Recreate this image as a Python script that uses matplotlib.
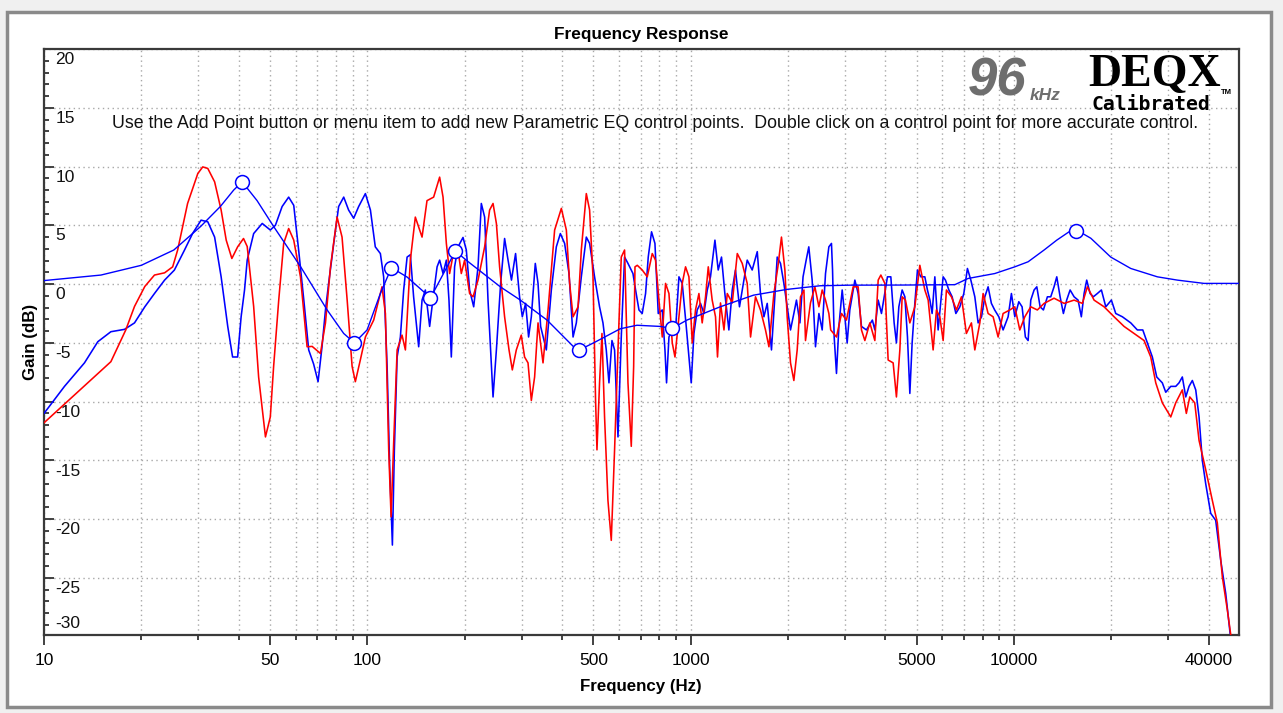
import matplotlib
matplotlib.use("Agg")
import matplotlib.pyplot as plt
from matplotlib.ticker import FixedLocator, MultipleLocator, NullFormatter
from matplotlib.patches import Rectangle
import matplotlib.transforms as mtransforms

# ---------------- data ----------------
red_freq = [10, 16.1, 17.9, 19.05, 20.5, 21.96, 23.6, 25.0, 25.9, 27.8, 29.9, 30.97, 32.1, 33.7,
            35.3, 36.6, 38.1, 39.7, 41.4, 42.5, 44.5, 46.1, 48.4, 50.1, 51.3, 53.2, 55.1, 57.1,
            59.2, 62.1, 65.1, 67.5, 71.6, 74.2, 76.9, 80.6, 83.5, 86.6, 89.7, 91.8, 95.1, 98.6,
            104.6, 111.0, 113.7, 116.4, 118.4, 120.6, 123.6, 128.0, 131.1, 135.8, 140.7, 147.6,
            152.9, 160.3, 167.3, 171.4, 175.5, 179.6, 186.1, 190.7, 195.2, 199.9, 207.1, 212.2,
            219.9, 230.5, 238.8, 244.7, 250.6, 256.4, 265.7, 274.2, 280.7, 288.8, 299.2, 306.3,
            313.9, 321.4, 329.0, 337.1, 349.3, 362.0, 379.4, 398.0, 412.4, 422.2, 432.6, 448.3,
            458.8, 475.4, 486.7, 498.6, 507.8, 512.9, 522.4, 531.5, 541.4, 554.6, 567.9, 581.4,
            595.7, 609.8, 624.3, 639.6, 654.8, 666.0, 672.3, 683.4, 707.9, 733.8, 760.3, 778.4,
            797.4, 816.4, 835.8, 856.3, 876.7, 893.8, 919.5, 941.3, 963.7, 987.2, 1010.7, 1034.6,
            1060, 1085, 1111, 1133, 1165, 1193, 1210, 1236, 1267, 1297, 1344, 1393, 1443, 1495,
            1531, 1586, 1643, 1703, 1745, 1808, 1860, 1908, 1955, 1987, 2035, 2084, 2134, 2185,
            2239, 2264, 2346, 2420, 2491, 2550, 2611, 2674, 2709, 2823, 2926, 3031, 3179, 3294,
            3373, 3455, 3580, 3710, 3799, 3872, 3984, 4078, 4226, 4326, 4433, 4506, 4613, 4760,
            4932, 5111, 5296, 5423, 5618, 5752, 5893, 6033, 6176, 6400, 6632, 6873, 7119, 7379,
            7560, 7834, 8020, 8310, 8612, 8923, 9247, 9698, 10050, 10414, 10793, 11260, 11800,
            12380, 13290, 14280, 15330, 16260, 16850, 17670, 18980, 20380, 21880, 23490, 25230,
            26460, 27420, 28730, 30510, 31610, 33130, 34090, 34930, 36190, 37320, 39140, 41020,
            42500, 44050, 45640, 46780]
red_gain = [-11.8, -6.6, -3.9, -1.9, -0.2, 0.77, 0.96, 1.47, 2.9, 6.86, 9.41, 9.97, 9.84, 8.7,
            6.3, 3.74, 2.18, 3.17, 3.88, 3.2, -1.9, -7.9, -13.0, -11.3, -7.0, -1.36, 3.46, 4.73,
            3.74, 0.62, -5.33, -5.3, -5.9, -3.3, 1.47, 5.7, 4.0, -1.36, -7.0, -8.3, -6.46, -4.5,
            -3.06, -0.23, -2.5, -14.1, -19.8, -13.5, -5.6, -4.34, -5.6, 2.04, 5.7, 4.0,
            7.1, 7.4, 9.1, 7.4, 3.46, 0.9, 3.17, 2.9, 0.9, 2.04, -0.8, -1.08,
            0.34, 3.17, 6.3, 6.86, 5.16, 1.47, -2.78, -5.6, -7.3, -5.6, -4.34, -6.2,
            -6.7, -9.9, -7.9, -3.3, -6.7, -2.2, 4.6, 6.44, 4.6, 0.06, -2.78, -1.93,
            2.9, 7.7, 6.3, 0.62, -9.86, -14.1, -8.4, -4.2, -11.3, -18.4, -21.8, -14.1,
            -5.6, 2.3, 2.9, -8.4, -13.8, -7.0, 1.47, 1.6, 1.2, 0.62, 2.6, 2.04,
            -1.36, -4.5, 0.06, -0.8, -5.0, -6.2, -2.78, 0.06, 1.47, 0.62, -5.0, -2.2,
            -0.8, -3.3, -1.08, 1.47, -1.36, -2.78, -6.2, -1.6, -3.9, -0.8, -1.6, 2.6, 1.76, 0.06,
            -4.5, -1.08, -2.2, -3.9, -5.33, -0.8, 1.47, 4.0, 1.2, -2.78, -6.7, -8.2, -5.6, -1.08,
            -0.5, -4.8, -1.6, -0.23, -1.93, -0.5, -1.36, -2.5, -3.9, -4.5, -2.5, -3.06, -0.23, -0.23,
            -3.9, -4.8, -3.3, -4.8, 0.34, 0.77, 0.06, -6.46, -6.7, -9.6, -5.6, -1.08, -1.36, -3.3,
            -1.93, 1.6, -0.5, -1.36, -5.6, -2.2, -2.78, -4.8, -0.5, -1.08, -2.2, -1.08, -4.2, -3.3,
            -5.6, -3.3, -0.8, -2.5, -2.78, -4.5, -2.5, -2.2, -1.93, -3.9, -2.78, -1.93, -2.2,
            -1.64, -1.2, -1.64, -1.36, -1.64, -0.23, -1.36, -1.93, -2.78, -3.6, -4.2, -4.8,
            -6.2, -8.4, -10.1, -11.3, -10.1, -9.0, -11.0, -9.6, -10.1, -13.3, -15.8, -18.4,
            -20.3, -24.9, -27.7, -29.85]

blue_freq = [10, 11.57, 13.34, 14.67, 16.1, 17.74, 19.05, 20.5, 21.96, 23.6, 25.3, 27.2, 28.8, 30.6,
             32.1, 33.7, 35.3, 37.0, 38.3, 39.7, 40.7, 41.7, 42.5, 44.5, 47.3, 50.1, 51.95, 54.5,
             57.1, 59.2, 61.3, 63.6, 65.85, 68.2, 70.4, 72.4, 74.2, 75.9, 78.7, 81.5, 84.5, 87.5,
             90.7, 94.0, 98.6, 102.2, 105.8, 109.7, 112.3, 115.1, 117.2, 119.5, 121.2, 123.6,
             126.5, 129.5, 132.7, 135.8, 139.0, 144.1, 147.6, 151.1, 155.8, 160.3, 164.3, 167.3,
             171.4, 175.5, 178.8, 181.8, 186.1, 190.7, 197.6, 202.3, 207.1, 213.2, 219.9, 225.1,
             230.5, 236.1, 244.7, 250.6, 258.3, 265.7, 272.3, 279.0, 287.3, 295.6, 301.4, 308.6,
             315.2, 321.4, 330.6, 337.1, 343.4, 357.6, 370.6, 384.0, 395.2, 407.4, 420.3, 432.6,
             442.8, 458.8, 475.4, 486.7, 504.2, 522.4, 535.3, 548.0, 558.6, 570.7, 581.4, 595.7,
             609.8, 624.3, 639.6, 662.7, 675.2, 691.7, 707.9, 725.0, 738.9, 756.5, 775.0, 793.5,
             816.4, 832.3, 841.8, 856.3, 876.7, 897.5, 919.5, 941.3, 968.5, 987.2, 1003.5, 1023,
             1047, 1072, 1099, 1125, 1151, 1188, 1216, 1245, 1275, 1312, 1344, 1375, 1415, 1460,
             1495, 1549, 1606, 1643, 1684, 1724, 1777, 1820, 1851, 1895, 1941, 1987, 2035, 2084,
             2123, 2176, 2225, 2275, 2318, 2374, 2431, 2491, 2550, 2611, 2674, 2724, 2745, 2777,
             2823, 2872, 2940, 2997, 3046, 3104, 3218, 3294, 3373, 3494, 3645, 3710, 3799, 3889,
             3964, 4058, 4157, 4256, 4326, 4401, 4506, 4594, 4680, 4760, 4838, 4932, 5025, 5148,
             5296, 5395, 5491, 5578, 5687, 5822, 6033, 6133, 6284, 6433, 6605, 6795, 6990, 7172,
             7349, 7560, 7740, 7930, 8118, 8310, 8507, 8708, 8970, 9247, 9583, 9811, 10050, 10340,
             10585, 10836, 11049, 11260, 11530, 11755, 12035, 12320, 12675, 12980, 13290, 13550,
             13876, 14205, 14540, 14900, 15330, 15770, 16140, 16460, 16770, 17180, 17580, 18090,
             18620, 19210, 19990, 20620, 21620, 22950, 24050, 25000, 25830, 26760, 27610, 28730,
             29440, 30510, 31610, 32360, 33130, 33950, 34750, 35580, 36450, 37320, 38200, 39140,
             40550, 42020, 43550, 45120, 46550]
blue_gain = [-11.0, -8.7, -6.7, -4.9, -4.05, -3.85, -3.3, -1.93, -0.8, 0.34, 1.19, 2.9, 4.3, 5.44,
             5.3, 4.0, 0.62, -3.6, -6.2, -6.2, -2.78, -0.5, 2.04, 4.3, 5.16, 4.6, 5.0, 6.6,
             7.4, 6.7, 2.9, -1.36, -5.6, -6.8, -8.3, -5.33, -2.2, 0.06, 3.46, 6.6, 7.4, 6.3,
             5.6, 6.6, 7.7, 6.3, 3.17, 2.6, 0.62, -7.0, -15.5, -22.2, -14.1, -6.2,
             -4.5, -0.5, 2.3, 2.5, -1.08, -5.33, -1.36, -0.5, -3.6, -0.8, 1.47, 2.04,
             0.9, 2.04, -1.36, -6.2, 1.47, 3.17, 3.97, 2.9, -0.5, -1.93, 1.47, 6.86,
             5.7, -1.36, -9.6, -5.6, 0.06, 3.88, 2.04, 0.34, 2.6, -1.08, -2.78, -1.64,
             -4.5, -2.78, 1.76, 0.06, -3.6, -5.6, -0.5, 3.17, 4.3, 3.46, 0.9, -4.5,
             -3.3, 0.62, 4.0, 3.46, 0.62, -1.93, -3.3, -5.6, -8.4, -4.8, -5.6, -13.0,
             -4.5, 2.3, 1.76, 0.9, -0.5, -2.2, -2.5, -0.8, 2.3, 4.45, 3.46, -2.5,
             -2.2, -5.6, -8.4, -4.5, -3.9, -3.9, 0.62, 0.06, -3.6, -6.2, -8.4, -4.2,
             -2.2, -1.64, -2.5, -0.5, 0.62, 3.74, 1.2, 2.3, -0.8, -3.9, -0.5, 1.2, -1.93, 0.34,
             2.04, 1.2, 2.76, -0.8, -2.78, -1.64, -5.6, -1.08, 2.3, 1.76, 0.06, -1.93, -3.9, -2.5,
             -1.36, -3.3, 0.62, 2.04, 3.17, 0.34, -5.33, -2.5, -3.9, 0.9, 3.17, 3.46, 1.2, -4.5,
             -7.6, -3.6, -0.5, -2.78, -5.0, -2.2, 0.34, -0.8, -3.6, -3.9, -3.06, -3.9, -1.36, -2.5,
             -1.08, 0.62, 0.62, -3.3, -5.0, -1.93, -0.5, -1.08, -4.5, -9.3, -5.0, -1.64, 1.2, 0.62,
             0.62, -0.5, -1.36, -2.5, 0.62, -3.9, 0.62, 0.34, -0.5, -1.08, -2.5, -1.93, -0.8, 1.33,
             0.34, -1.08, -3.3, -2.78, -1.08, -0.23, -1.64, -2.2, -2.78, -3.9, -2.78, -0.8, -2.78, -1.5,
             -1.93, -4.5, -4.8, -1.36, -0.5, -0.23, -1.93, -2.2, -1.08, -1.08, -0.23, 0.62,
             -1.08, -2.5, -1.36, -0.5, -1.08, -1.36, -2.78, -0.8, 0.34, -0.8, -1.08, -0.8,
             -0.5, -1.93, -1.36, -2.5, -2.78, -3.3, -3.9, -3.9, -5.0, -6.2, -7.9, -8.4,
             -9.2, -8.7, -8.7, -8.4, -7.9, -9.6, -8.7, -8.2, -9.0, -11.3, -15.0, -17.0,
             -19.5, -20.1, -23.5, -26.3, -29.7]

eq_freq = [10, 15, 20, 25.2, 30.5, 35.1, 38.6, 41.0, 45.6, 51.3, 62.1, 75.1, 84.5, 91.2,
           99.8, 109.7, 118.7, 132.7, 152.9, 156.6, 187.1, 208.2, 257.7, 297.2, 359.4, 434.2,
           452.3, 500.7, 605.4, 681.9, 804.8, 874.9, 973.5, 1234, 1564, 1983, 2514, 3112,
           4500, 6556, 7207, 8717, 10050, 11050, 12380, 13550, 14790, 15550, 16300, 17270,
           19900, 22950, 27730, 31980, 38670, 49950]
eq_gain = [0.3, 0.77, 1.6, 2.9, 4.9, 6.6, 8.0, 8.7, 7.1, 4.9, 1.5, -2.2, -4.2, -5.0,
           -3.9, -0.8, 1.4, 0.6, -0.9, -1.2, 2.8, 1.76, -0.23, -1.36, -3.06, -5.33,
           -5.6, -5.0, -3.8, -3.5, -3.6, -3.77, -3.06, -1.93, -0.94, -0.45, -0.14, -0.09,
           -0.08, -0.05, 0.48, 0.9, 1.47, 1.9, 2.9, 3.74, 4.45, 4.6, 4.3, 3.9,
           2.3, 1.33, 0.62, 0.34, 0.06, 0.06]

ctrl_freq = [41.0, 91.2, 118.7, 156.6, 187.1, 452.3, 874.9, 15550]
ctrl_gain = [8.7, -5.0, 1.4, -1.2, 2.8, -5.6, -3.77, 4.5]

x_major = [10, 50, 100, 500, 1000, 5000, 10000, 40000]
x_labels = ["10", "50", "100", "500", "1000", "5000", "10000", "40000"]
y_ticks = [20, 15, 10, 5, 0, -5, -10, -15, -20, -25, -30]

title = "Frequency Response"
xlabel = "Frequency (Hz)"
ylabel = "Gain (dB)"
hint = ("Use the Add Point button or menu item to add new Parametric EQ control points.  "
        "Double click on a control point for more accurate control.")

# ---------------- figure ----------------
W, H = 1283, 713
fig = plt.figure(figsize=(W / 100, H / 100), dpi=100, facecolor="#f0f0f0")
SANS = ["Liberation Sans", "DejaVu Sans"]


def fx(px):
    return px / W


def fy(py):
    return 1 - py / H


# window frame (behind everything)
fig.patches.append(Rectangle((fx(7), fy(707)), fx(1271) - fx(7), fy(12) - fy(707),
                             transform=fig.transFigure, facecolor="white",
                             edgecolor="#8a8a8a", linewidth=2.5, zorder=-10))

ax = fig.add_axes([fx(44), fy(635), fx(1239) - fx(44), fy(49) - fy(635)])
ax.set_zorder(1)
ax.set_xscale("log")
ax.set_xlim(10, 49600)
ax.set_ylim(-29.85, 20)
ax.set_facecolor("white")

# minor x positions: every k * 10^n not labelled
minor_x = []
for dec in [10, 100, 1000, 10000]:
    for k in range(1, 10):
        v = k * dec
        if v < 49600 and v not in x_major:
            minor_x.append(v)

ax.xaxis.set_major_locator(FixedLocator(x_major))
ax.xaxis.set_minor_locator(FixedLocator(minor_x))
ax.xaxis.set_minor_formatter(NullFormatter())
ax.set_xticklabels(x_labels, fontsize=12.5, family=SANS)
ax.yaxis.set_major_locator(MultipleLocator(5))
ax.yaxis.set_minor_locator(MultipleLocator(1))
ax.set_yticklabels([])

grid_kw = dict(color="#a8a8a8", linestyle=(0, (1, 2.5)), linewidth=1.0)
ax.grid(True, which="both", axis="x", **grid_kw)
ax.grid(True, which="major", axis="y", **grid_kw)
ax.set_axisbelow(True)

ax.tick_params(axis="x", which="major", direction="out", length=7, width=1.3, color="#333333", pad=6)
ax.tick_params(axis="x", which="minor", direction="out", length=3.5, width=1.3, color="#333333")
ax.tick_params(axis="y", which="major", direction="in", length=7, width=1.3, color="#333333")
ax.tick_params(axis="y", which="minor", direction="in", length=3.5, width=1.3, color="#333333")
for s in ax.spines.values():
    s.set_color("#3a3a3a")
    s.set_linewidth(1.6)

# y tick labels drawn inside the plot, just below each tick
ymin, ymax = ax.get_ylim()
ytrans = mtransforms.blended_transform_factory(ax.transAxes, ax.transData)
for v in y_ticks:
    yy = v - 0.9
    if yy < ymin + 1.0:
        yy = ymin + 1.0
    ax.text(0.0095, yy, str(v), transform=ytrans, ha="left", va="center",
            fontsize=12.5, family=SANS, color="#111111")

# traces
ax.plot(blue_freq, blue_gain, color="#0000ff", linewidth=1.15, zorder=3)
ax.plot(red_freq, red_gain, color="#ff0000", linewidth=1.15, zorder=4)
ax.plot(eq_freq, eq_gain, color="#0000ff", linewidth=1.0, zorder=5)
ax.plot(ctrl_freq, ctrl_gain, linestyle="none", marker="o", markersize=10,
        markerfacecolor="white", markeredgecolor="#0000ff", markeredgewidth=1.1, zorder=6)

# texts
fig.text(fx(641), fy(34), title, ha="center", va="center", fontsize=12.4, fontweight="bold", family=SANS)
fig.text(fx(641), fy(686), xlabel, ha="center", va="center", fontsize=12.2, fontweight="bold", family=SANS)
fig.text(fx(30), fy(342), ylabel, ha="center", va="center", rotation=90, fontsize=12.2,
         fontweight="bold", family=SANS)
fig.text(fx(655), fy(124), hint, ha="center", va="center", fontsize=12.75, family=SANS,
         color="#111111", zorder=5)

# logo
fig.text(fx(997), fy(82), "96", ha="center", va="center", fontsize=38, fontweight="bold",
         style="italic", family=SANS, color="#6e6e6e", zorder=5)
fig.text(fx(1045), fy(95), "kHz", ha="center", va="center", fontsize=12.5, fontweight="bold",
         style="italic", family=SANS, color="#6e6e6e", zorder=5)
fig.text(fx(1155), fy(75), "DEQX", ha="center", va="center", fontsize=33, fontweight="bold",
         family=["Liberation Serif", "DejaVu Serif"], color="black", zorder=5)
fig.text(fx(1151), fy(105), "Calibrated", ha="center", va="center", fontsize=14.2, fontweight="bold",
         family=["DejaVu Sans Mono"], color="black", zorder=5)
fig.text(fx(1226), fy(93), "TM", ha="center", va="center", fontsize=5.5, fontweight="bold",
         family=SANS, color="black", zorder=5)

fig.savefig("out.png", dpi=100, facecolor=fig.get_facecolor())
